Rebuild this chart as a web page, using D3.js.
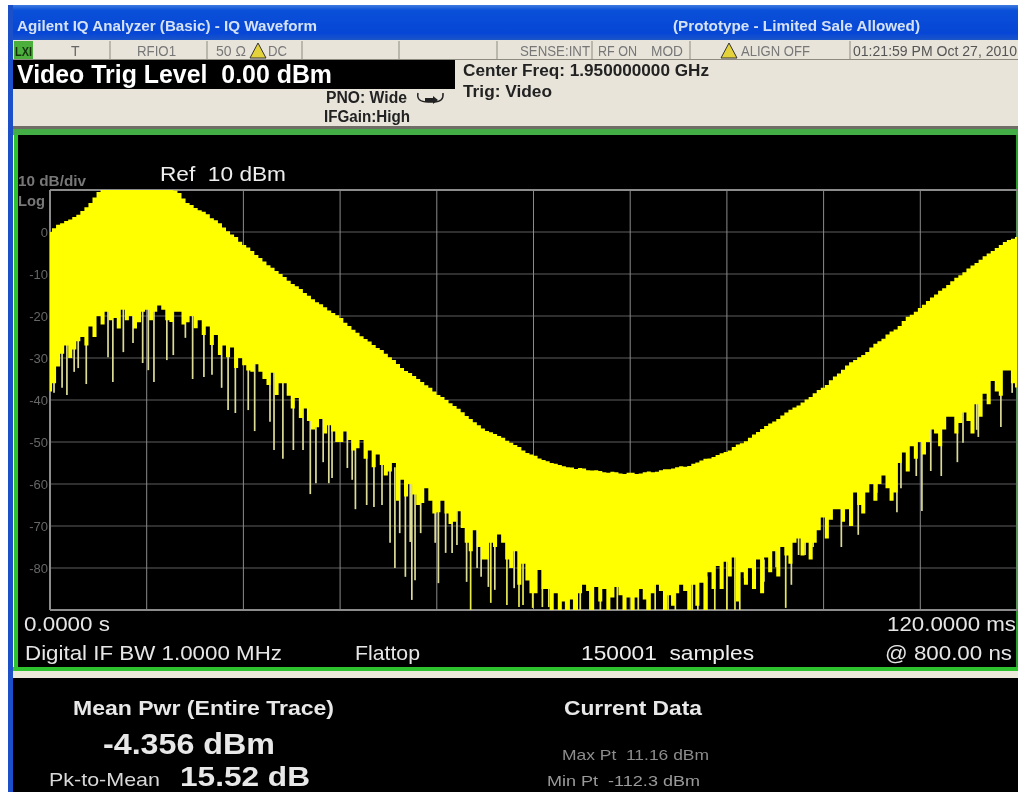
<!DOCTYPE html>
<html><head><meta charset="utf-8"><title>IQ Waveform</title>
<script src="https://cdn.jsdelivr.net/npm/d3@7"></script>
<style>html,body{margin:0;padding:0;background:#fff;overflow:hidden}svg{display:block}text{font-family:"Liberation Sans",Arial,sans-serif}</style>
</head><body><svg id="c" width="1018" height="792"></svg>
<script>
// Trace envelopes (dBm), read every half millisecond across 0 to 120 ms
const upperDb=[0,0.9,1.7,2.1,2.6,3.0,3.6,4.1,5.0,5.9,6.9,8.2,9.5,10.2,10.6,10.9,11,11,11.1,11.1,11.16,11.1,11.1,11,11,10.9,10.9,10.8,10.6,10.5,10.3,9.9,9.3,8.0,6.9,6.4,5.7,5.2,4.8,4.2,3.3,2.8,2.1,1.1,0.2,-0.6,-1.2,-2.3,-3.1,-3.7,-4.5,-5.5,-6.2,-7.0,-7.9,-8.5,-9.3,-10.0,-10.7,-11.6,-12.4,-12.9,-13.6,-14.5,-15.2,-16.0,-16.7,-17.2,-17.9,-18.7,-19.3,-19.8,-20.5,-21.6,-22.4,-23.3,-24,-24.8,-25.5,-26.1,-26.9,-27.6,-28.1,-29,-29.8,-30.5,-31.4,-32.4,-33.1,-33.6,-34.3,-35,-35.7,-36.5,-37.1,-38,-38.8,-39.3,-40,-40.8,-41.4,-42.1,-42.9,-43.8,-44.5,-45.3,-46,-46.8,-47.4,-47.7,-48.1,-48.6,-49,-49.7,-50.2,-50.7,-51.2,-52,-52.6,-53,-53.3,-53.9,-54.3,-54.6,-55,-55.2,-55.5,-55.8,-56,-56.1,-56.4,-56.2,-56.3,-56.7,-56.8,-56.7,-56.9,-57.2,-57.3,-57.1,-57.2,-57.5,-57.6,-57.3,-57.3,-57.6,-57.5,-57.2,-57,-57.2,-57.1,-56.7,-56.5,-56.5,-56.3,-56,-55.8,-55.9,-55.7,-55.2,-54.9,-54.4,-54,-53.9,-53.6,-53.1,-52.7,-52.4,-52,-51.2,-50.6,-50.3,-49.8,-49,-48.2,-47.6,-46.9,-46.2,-45.6,-45.1,-44.5,-43.7,-43,-42.3,-41.8,-41.3,-40.6,-39.9,-39.3,-38.4,-37.6,-37.1,-36.4,-35.3,-34.4,-33.7,-32.8,-31.8,-31,-30.5,-29.8,-29.3,-28.6,-27.5,-26.6,-26,-25.4,-24.4,-23.7,-23.2,-22.4,-21.2,-20.2,-19.7,-19,-18.1,-17.3,-16.4,-15.6,-14.9,-14,-13.4,-12.6,-11.7,-10.9,-10.3,-9.6,-8.7,-8,-7.4,-6.6,-5.8,-5.1,-4.5,-3.8,-3.1,-2.4,-1.9,-1.6,-1.2];
const lowerDb=[-38,-36,-32,-29,-27,-30,-28,-26,-25,-27,-22.5,-25,-20,-22,-19,-21,-20.5,-23,-18.5,-21,-20,-23,-21.5,-19,-18.5,-21,-19,-17.5,-18.5,-21,-21.4,-19,-19,-22,-21.5,-20,-22.9,-21,-24.5,-22.5,-26.9,-24.5,-29.3,-27,-29.8,-27.5,-32.4,-30,-31.7,-33,-33.3,-31.5,-33.3,-35,-36.4,-33.5,-38.8,-36,-36,-39,-42,-39.5,-44.3,-42,-45,-47,-46.5,-44.5,-48,-46,-47.5,-50,-50,-47.5,-49.5,-52,-51.5,-49.5,-54,-52,-56,-53,-55.5,-58,-57,-55,-64,-59,-63,-60,-62.5,-65,-64.5,-61,-64,-67,-66.7,-64,-67,-69.5,-69,-66.5,-70.5,-74,-76,-71,-75,-78,-78,-74,-75,-72,-74,-78,-80,-76,-84,-79,-83,-86,-80,-86,-80.5,-85,-85,-90,-86,-90,-88,-90,-87.5,-90,-86,-84,-85.5,-90,-84.5,-88,-85,-90,-87,-84.5,-86.5,-90,-87,-90,-87,-85,-87.5,-90,-86,-84,-85.5,-90,-86.5,-89,-86,-84,-85.5,-90,-84,-89,-83.5,-90,-81,-85,-79.5,-85,-78.5,-82,-77.5,-88,-81,-84,-80,-85,-78,-86,-77.5,-81,-76,-82,-75,-77,-79,-74,-73,-77,-74,-78,-74,-71,-68,-73,-68.5,-66,-66,-69,-66,-70,-62,-65,-67,-62,-60,-64,-60,-58,-61,-64,-62,-55,-52.5,-57,-51,-54,-50,-53,-50,-47,-48,-51,-47,-44,-44,-48,-45.5,-43,-45,-48,-41,-44,-38.5,-41,-35.5,-38,-39,-33,-33,-36,-37];
const spikeMs=[0.5,1.5,2.1,3,3.5,4.5,7.2,7.8,9.1,10.3,11.5,12.2,12.9,14.5,15.3,16.8,17.7,19.1,20.1,21.3,22.1,23,24.6,25.4,27.3,27.8,28.9,30.2,31.4,32.3,33,33.9,34.6,35,36.9,37.5,37.9,39.3,40.2,41.2,42.2,42.8,43.4,44.1,44.7,44.9,45.3,46,47.8,48.2,49.1,49.9,50.5,51.7,52.2,53,53.5,54.4,54.7,55.2,56.7,57.6,58.2,58.7,59.9,61.1,61.9,64,65,65.8,67,68.3,70.4,71.2,72.2,73,74.1,75.1,76.7,77.6,79.7,80.4,81.5,82.5,84,85,85.6,86.2,87.2,88.6,90.1,91.3,92,92.9,93.7,94.7,98.2,99.3,100.3,102.4,102.6,105.1,105.6,107.5,108.2,109.3,110.6,112.6,113.3,115,115.2,118,119.4];
const spikeDb=[-38.3,-37.1,-38.8,-33.3,-32.4,-36.2,-29.8,-35.7,-28.6,-26.4,-31.2,-32.9,-35.7,-30.5,-29.3,-25.2,-35,-34.5,-34,-37.1,-42.4,-43.1,-42.4,-47.4,-45.2,-51.9,-54,-51.9,-51.9,-62.4,-59.8,-54.8,-59.8,-58.6,-56.2,-59,-66,-65,-65.5,-65,-74,-80,-71.7,-82.1,-73.8,-87.6,-82.9,-71.7,-74,-83.6,-76.4,-76.4,-74.5,-83.3,-90,-80,-82.1,-84.5,-88.3,-85.2,-88.8,-84.8,-89.3,-88.8,-89.5,-89.3,-89.3,-90,-90,-90,-90,-90,-90,-90,-90,-90,-90,-90,-90,-90,-90,-90,-90,-90,-90,-90,-90,-82.4,-80.5,-83.3,-79.8,-89.5,-84,-76.9,-76.9,-75,-75,-69.8,-72.1,-63.8,-62.1,-66.7,-61,-58.1,-66.4,-56.9,-58.1,-54.8,-50.2,-47.1,-48.8,-46.4,-38.3];
const dbTicks=[0,-10,-20,-30,-40,-50,-60,-70,-80];
const dbGrid=[10,0,-10,-20,-30,-40,-50,-60,-70,-80,-90];
const msGrid=[0,12,24,36,48,60,72,84,96,108,120];
const statusSeparators=[110,207,302,399,497,592,690,850];

const svg=d3.select("#c");
const x=d3.scaleLinear().domain([0,120]).range([50,1017]);
const y=d3.scaleLinear().domain([10,-90]).range([190,610]);

function rect(a,b,w,h,f){return svg.append("rect").attr("x",a).attr("y",b).attr("width",w).attr("height",h).attr("fill",f);}
function label(s,a,b,size,fill,opt={}){
  const t=svg.append("text").attr("x",a).attr("y",b).attr("font-size",size).attr("fill",fill).attr("font-weight",opt.bold?"bold":"normal").attr("filter","url(#soft)").style("white-space","pre").text(s);
  if(opt.len){t.attr("textLength",opt.len).attr("lengthAdjust","spacingAndGlyphs");}
  return t;
}
const defs=svg.append("defs");
defs.append("linearGradient").attr("id","title").attr("x1",0).attr("x2",0).attr("y1",0).attr("y2",1)
 .selectAll("stop").data([[0,"#3f7be0"],[0.15,"#0a50d8"],[0.8,"#0646d6"],[1,"#1b55c8"]]).join("stop").attr("offset",d=>d[0]).attr("stop-color",d=>d[1]);
defs.append("filter").attr("id","soft").attr("x","-5%").attr("y","-20%").attr("width","110%").attr("height","140%").append("feGaussianBlur").attr("stdDeviation",0.4);
defs.append("clipPath").attr("id","plot").append("rect").attr("x",50).attr("y",190).attr("width",967).attr("height",420);

// window chrome
rect(8,5,1010,35,"url(#title)");
rect(8,5,5,787,"#1c50c8");
rect(13,40,1005,88,"#e8e4da");
rect(13,59,1005,1,"#8d8a80");
rect(14,41,19,18,"#4caf3c");
svg.selectAll("line.sep").data(statusSeparators).join("line").attr("class","sep").attr("x1",d=>d).attr("x2",d=>d).attr("y1",41).attr("y2",60).attr("stroke","#8d8a80");
rect(13,60,442,29,"#000");
rect(13,126,1005,3,"#6f6d66");
rect(13,129,1005,6,"#43ae45");
rect(18,135,1000,533,"#000");
rect(14,135,4,533,"#2fc22f");
rect(1016,135,2,533,"#2a9e2a");
rect(13,667,1005,4,"#2fc22f");
rect(13,671,1005,7,"#ece8da");
rect(13,678,1005,114,"#000");

// title and status text
label("Agilent IQ Analyzer (Basic) - IQ Waveform",17,31,14,"#d5e2f5",{bold:true,len:300});
label("(Prototype - Limited Sale Allowed)",673,31,14,"#d5e2f5",{bold:true,len:247});
label("LXI",15,56,13,"#14330f",{bold:true,len:17});
label("T",71,56,14,"#666");
label("RFIO1",137,56,14,"#777",{len:39});
label("50 Ω",216,56,14,"#777",{len:30});
label("DC",268,56,14,"#777",{len:19});
label("SENSE:INT",520,56,14,"#777",{len:70});
label("RF ON",598,56,14,"#777",{len:39});
label("MOD",651,56,14,"#777",{len:32});
label("ALIGN OFF",741,56,14,"#777",{len:69});
label("01:21:59 PM Oct 27, 2010",853,56,14,"#555",{len:164});
svg.selectAll("path.w").data([[258,45],[729,45]]).join("path").attr("class","w").attr("d",d=>`M${d[0]},${d[1]-2}l8,15h-16z`).attr("fill","#e3d23a").attr("stroke","#333");

label("Video Trig Level  0.00 dBm",17,83,25,"#fff",{bold:true,len:315});
label("PNO: Wide",326,103,16,"#222",{bold:true,len:81});
label("IFGain:High",324,122,16,"#222",{bold:true,len:86});
svg.append("path").attr("d","M418,93q-2,9 10,9h6q10,0 9,-9").attr("fill","none").attr("stroke","#222").attr("stroke-width",1.5);
svg.append("path").attr("d","M425,98h8v-2l5,4l-5,4v-2h-8z").attr("fill","#222");
label("Center Freq: 1.950000000 GHz",463,76,16,"#222",{bold:true,len:246});
label("Trig: Video",463,97,16,"#222",{bold:true,len:89});

// plot labels
label("10 dB/div",18,186,14,"#777",{bold:true,len:68});
label("Log",18,206,14,"#777",{bold:true,len:27});
label("Ref  10 dBm",160,181,21,"#eee",{len:126});
svg.selectAll("text.yt").data(dbTicks).join("text").attr("class","yt").attr("x",48).attr("y",d=>y(d)+5).attr("text-anchor","end").attr("font-size",13).attr("fill","#666").attr("filter","url(#soft)").text(d=>d);

// grid
svg.selectAll("line.gh").data(dbGrid).join("line").attr("class","gh").attr("x1",x(0)).attr("x2",x(120)).attr("y1",d=>y(d)).attr("y2",d=>y(d)).attr("stroke","#5e5e5e").attr("stroke-width",1);
svg.selectAll("line.gv").data(msGrid).join("line").attr("class","gv").attr("x1",d=>x(d)).attr("x2",d=>x(d)).attr("y1",y(10)).attr("y2",y(-90)).attr("stroke","#8a8a8a").attr("stroke-width",1);
svg.selectAll("line.gb").data([10,-90]).join("line").attr("class","gb").attr("x1",x(0)).attr("x2",x(120)).attr("y1",d=>y(d)).attr("y2",d=>y(d)).attr("stroke","#8c8c8c").attr("stroke-width",2);
svg.append("line").attr("x1",x(0)).attr("x2",x(0)).attr("y1",y(10)).attr("y2",y(-90)).attr("stroke","#8c8c8c").attr("stroke-width",2);

// trace
const lowAt=ms=>lowerDb[Math.min(lowerDb.length-1,Math.round(ms/120*(lowerDb.length-1)))];
const g=svg.append("g").attr("clip-path","url(#plot)");
const gt=g.append("g").attr("filter","url(#soft)");
gt.selectAll("line.s").data(spikeMs).join("line").attr("class","s")
 .attr("x1",d=>x(d)).attr("x2",d=>x(d))
 .attr("y1",d=>y(lowAt(d)+8))
 .attr("y2",(d,i)=>y(spikeDb[i]))
 .attr("stroke",(d,i)=>spikeDb[i]<=-88?"#e8e850":"#dcdc96").attr("stroke-width",1.7);
const msOf=i=>i*120/(upperDb.length-1);
const area=d3.area().x((d,i)=>x(msOf(i))).y0((d,i)=>y(lowAt(msOf(i)))).y1(d=>y(d)).curve(d3.curveStep);
gt.append("path").datum(upperDb).attr("d",area).attr("fill","#ffff00");

// readouts
label("0.0000 s",24,631,21,"#e6e6e6",{len:86});
label("Digital IF BW 1.0000 MHz",25,660,21,"#e6e6e6",{len:257});
label("Flattop",355,660,21,"#e6e6e6",{len:65});
label("150001  samples",581,660,21,"#eee",{len:173});
label("120.0000 ms",887,631,21,"#e6e6e6",{len:129});
label("@ 800.00 ns",885,660,21,"#e6e6e6",{len:127});
label("Mean Pwr (Entire Trace)",73,715,21,"#e8e8e8",{bold:true,len:261});
label("-4.356 dBm",103,754,30,"#e8e8e8",{bold:true,len:172});
label("Pk-to-Mean",49,786,19,"#d8d8d8",{len:111});
label("15.52 dB",180,786,28,"#e8e8e8",{bold:true,len:130});
label("Current Data",564,715,21,"#e8e8e8",{bold:true,len:138});
label("Max Pt  11.16 dBm",562,760,15,"#8c8c8c",{len:147});
label("Min Pt  -112.3 dBm",547,786,15,"#9a9a9a",{len:153});
</script></body></html>
